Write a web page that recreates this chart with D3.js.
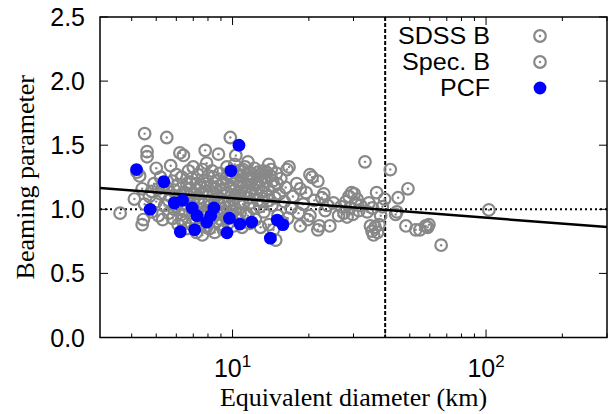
<!DOCTYPE html>
<html>
<head>
<meta charset="utf-8">
<script src="https://cdn.jsdelivr.net/npm/d3@7"></script>
<style>
html,body{margin:0;padding:0;background:#fff;}
svg{display:block;}
</style>
</head>
<body>
<svg id="chart" width="609" height="414"></svg>
<script>
// ---- data (Equivalent diameter km, Beaming parameter) ----
const sdssB = [
[3.6,0.97],[4.1,1.08],[4.2,1.29],[4.3,1.26],[4.4,1.16],[4.4,0.88],[4.45,0.92],[4.5,1.59],[4.6,1.45],[4.6,1.41],
[4.5,1.04],[4.7,1.10],[4.8,1.14],[4.8,0.98],[4.9,1.20],[5.0,1.32],[5.0,1.06],[5.1,0.95],[5.2,1.12],[5.3,0.92],[5.2,1.25],
[5.4,1.03],[5.5,1.56],[5.5,1.17],[5.6,0.97],[5.7,1.34],[5.7,1.10],[5.8,1.22],[5.8,0.93],[5.9,1.15],[6.0,1.02],
[6.0,1.27],[6.1,0.88],[6.1,1.19],[6.2,1.44],[6.2,1.08],[6.3,0.96],[6.3,1.25],[6.4,1.42],[6.4,1.13],[6.5,0.90],
[6.5,1.04],[6.6,1.20],[6.6,0.85],[6.7,1.30],[6.7,1.10],[6.8,0.97],[6.8,1.16],[6.9,1.24],[6.9,0.88],[7.0,1.05],
[7.0,1.33],[7.1,1.12],[7.1,0.93],[7.2,1.20],[7.2,0.82],[7.3,1.00],[7.3,1.27],[7.4,1.09],[7.4,0.87],[7.5,1.17],
[7.5,0.96],[7.6,1.31],[7.6,0.80],[7.7,1.04],[7.7,1.22],[7.8,1.46],[7.8,0.91],[7.9,1.14],[7.9,1.36],[8.0,0.99],
[8.0,1.26],[8.1,0.85],[8.1,1.07],[8.2,1.18],[8.3,0.93],[8.3,1.30],[8.4,1.12],[8.5,0.82],[8.5,1.02],[8.6,1.22],
[8.7,0.96],[8.8,1.43],[8.8,1.09],[8.9,0.88],[8.9,1.28],[9.0,1.15],[9.1,1.00],[9.2,0.84],[9.2,1.21],[9.3,1.06],
[9.4,0.94],[9.5,1.33],[9.5,1.13],[9.6,0.89],[9.7,1.02],[9.8,1.56],[9.8,1.18],[9.9,0.96],[10.0,1.25],[10.0,1.08],
[10.1,0.87],[10.2,1.15],[10.3,1.42],[10.3,1.00],[10.4,1.22],[10.5,0.93],[10.6,1.30],[10.7,1.11],[10.8,1.26],[10.9,0.86],
[11.0,1.04],[11.1,1.19],[11.2,1.33],[11.3,0.97],[11.5,1.37],[11.5,1.23],[11.6,1.09],[11.7,0.89],[11.8,1.28],[12.0,1.16],
[12.1,1.01],[12.2,1.32],[12.3,0.92],[12.5,1.21],[12.6,1.07],[12.8,1.27],[12.9,0.86],[13.0,1.14],[13.2,1.30],[13.3,0.98],
[13.5,1.22],[13.7,1.10],[13.9,1.35],[13.9,0.88],[14.1,1.26],[14.2,1.31],[14.3,1.03],[14.5,0.84],[14.6,1.18],[14.8,0.76],
[14.9,1.28],[15.1,0.95],[15.3,1.12],[15.5,1.24],[15.7,0.90],[16.0,1.06],[16.2,1.17],[16.4,1.31],[16.7,1.33],[16.5,0.93],
[17.0,1.01],[17.3,1.10],
[5.3,1.18],[6.8,1.21],[7.6,1.13],[8.6,1.16],[9.4,1.24],[10.9,1.17],[11.9,1.22],[12.7,1.17],[13.4,1.25],[7.0,0.99],
[8.2,1.03],[9.0,0.92],[10.6,1.05],[12.4,1.12],[5.9,1.00],[6.4,0.99],[7.9,0.86],[9.9,1.11],[11.3,1.12],[13.1,1.06],
[10.4,1.28],[10.8,1.21],[11.4,1.27],[11.0,1.31],[12.0,1.25],[12.3,1.19],[12.9,1.23],[13.6,1.29],[14.4,1.22],[15.0,1.20],
[11.2,1.14],[12.6,1.29],[13.8,1.16],[14.7,1.09],[10.2,1.35],[9.6,1.28],[9.1,1.19],[8.4,1.25],[7.8,1.20],[7.3,1.15],
[6.6,1.12],[6.1,1.09],[5.6,1.07],[5.1,1.16],[8.7,1.11],[9.7,1.06],[10.5,1.13],[11.8,1.05],[12.8,1.02],[13.9,1.07],
[6.9,1.02],[7.7,0.98],[8.9,1.04],[10.0,0.99],[11.5,0.95],[6.3,0.92],[7.5,0.89],[8.6,0.90],[9.3,0.98],[10.7,0.97]
];
const specB = [
[17.9,1.20],[18.2,0.97],[18.5,1.16],[18.5,0.87],[19.0,1.04],[19.5,1.13],[19.8,0.92],[20.2,1.27],[20.2,0.95],[20.6,1.25],
[21.0,1.07],[21.7,1.22],[21.7,0.84],[22.0,0.87],[22.5,1.09],[22.9,1.12],[23.2,0.99],[23.7,1.03],[24.2,0.87],[25.0,1.05],
[26.2,0.95],[26.8,1.02],[27.5,0.97],[28.0,1.06],[28.3,0.94],[28.8,1.10],[29.0,1.01],[29.5,1.13],[29.8,0.96],[30.2,1.12],
[30.5,1.05],[31.0,1.08],[31.5,0.99],[32.0,1.03],[33.3,1.37],[34.0,0.98],[34.5,1.05],[35.0,0.87],[35.5,0.83],[35.7,1.01],
[36.0,0.80],[36.5,0.86],[37.0,1.13],[37.3,0.82],[37.8,0.88],[38.4,0.95],[39.0,1.02],[39.8,1.08],
[41.9,1.31],[44.0,0.96],[44.5,0.98],[45.0,1.09],[48.3,0.87],[49.2,1.16],[52.8,0.84],[54.8,0.84],[57.8,0.87],[58.8,0.86],
[59.5,0.88],[66.5,0.72],[102.6,0.995]
];
const pcf = [
[4.18,1.31],[4.73,1.00],[5.36,1.215],[5.89,1.05],[6.35,1.07],[6.22,0.825],[6.93,1.01],[7.24,0.95],[7.09,0.84],[7.91,0.90],
[8.20,0.95],[8.44,1.01],[9.51,0.817],[9.72,0.93],[9.86,1.30],[10.6,1.50],[10.7,0.885],[11.9,0.90],[14.1,0.775],[15.0,0.916],[15.8,0.88]
];
const fitLine = [[3,1.166],[300,0.862]];
const refX = 40;
const refY = 1.0;
const yTicks = [0.0,0.5,1.0,1.5,2.0,2.5];
const yTickLabels = ["0.0","0.5","1.0","1.5","2.0","2.5"];
const xMajor = [10,100];
const xMajorLabels = [["10","1"],["10","2"]];
const xMinor = [4,5,6,7,8,9,20,30,40,50,60,70,80,90,200,300];
const legendNames = ["SDSS B","Spec. B","PCF"];
const xTitle = "Equivalent diameter (km)";
const yTitle = "Beaming parameter";

// ---- layout ----
const L = 100, R = 607, T = 17, B = 337.5;
const svg = d3.select("#chart");
const x = d3.scaleLog().domain([3,300]).range([L,R]);
const y = d3.scaleLinear().domain([0,2.5]).range([B,T]);
const gray = "#888888";

// reference lines
svg.append("line").attr("x1",x(refX)).attr("x2",x(refX)).attr("y1",T).attr("y2",B)
  .attr("stroke","#000").attr("stroke-width",2).attr("stroke-dasharray","4,2");
svg.append("line").attr("x1",L).attr("x2",R).attr("y1",y(refY)).attr("y2",y(refY))
  .attr("stroke","#000").attr("stroke-width",2).attr("stroke-dasharray","2,3");

// gray points
function ring(g, data){
  const s = g.selectAll(null).data(data).enter().append("g")
    .attr("transform",d=>`translate(${x(d[0])},${y(d[1])})`);
  s.append("circle").attr("r",5.8).attr("fill","none").attr("stroke",gray).attr("stroke-width",2.2);
  s.append("circle").attr("r",1.2).attr("fill",gray);
}
const gp = svg.append("g");
ring(gp, sdssB);
ring(gp, specB);

// fit line
svg.append("path").datum(fitLine)
  .attr("d", d3.line().x(d=>x(d[0])).y(d=>y(d[1])))
  .attr("stroke","#000").attr("stroke-width",2.5).attr("fill","none");

// PCF points
svg.append("g").selectAll("circle").data(pcf).enter().append("circle")
  .attr("cx",d=>x(d[0])).attr("cy",d=>y(d[1])).attr("r",6.4).attr("fill","#0000ff");

// frame
svg.append("rect").attr("x",L).attr("y",T).attr("width",R-L).attr("height",B-T)
  .attr("fill","none").attr("stroke","#000").attr("stroke-width",1.5);

// ticks
const tk = svg.append("g").attr("stroke","#000").attr("stroke-width",1);
yTicks.forEach(v=>{
  tk.append("line").attr("x1",L).attr("x2",L+8).attr("y1",y(v)).attr("y2",y(v));
  tk.append("line").attr("x1",R).attr("x2",R-8).attr("y1",y(v)).attr("y2",y(v));
});
xMajor.forEach(v=>{
  tk.append("line").attr("x1",x(v)).attr("x2",x(v)).attr("y1",B).attr("y2",B-8);
  tk.append("line").attr("x1",x(v)).attr("x2",x(v)).attr("y1",T).attr("y2",T+8);
});
xMinor.forEach(v=>{
  tk.append("line").attr("x1",x(v)).attr("x2",x(v)).attr("y1",B).attr("y2",B-4);
  tk.append("line").attr("x1",x(v)).attr("x2",x(v)).attr("y1",T).attr("y2",T+4);
});

const sans = "'Liberation Sans', Arial, Helvetica, sans-serif";
const serif = "'Liberation Serif', 'Times New Roman', serif";

// y tick labels
svg.append("g").selectAll("text").data(yTicks).enter().append("text")
  .attr("x",L-15).attr("y",d=>y(d)).attr("dy","0.36em")
  .attr("text-anchor","end").attr("font-family",sans).attr("font-size",25)
  .text((d,i)=>yTickLabels[i]);

// x tick labels
xMajor.forEach((v,i)=>{
  const t = svg.append("text").attr("x",x(v)).attr("y",377)
    .attr("text-anchor","middle").attr("font-family",sans).attr("font-size",25);
  t.append("tspan").text(xMajorLabels[i][0]);
  t.append("tspan").attr("dy",-10).attr("font-size",17).text(xMajorLabels[i][1]);
});

// axis titles
svg.append("text").attr("x",(L+R)/2).attr("y",406).attr("text-anchor","middle")
  .attr("font-family",serif).attr("font-size",26).text(xTitle);
svg.append("text").attr("transform",`translate(34,${(T+B)/2}) rotate(-90)`)
  .attr("text-anchor","middle").attr("font-family",serif).attr("font-size",26).text(yTitle);

// legend
const ly = [36,62,88];
const lw = [92,88,50];
legendNames.forEach((n,i)=>{
  svg.append("text").attr("x",490).attr("y",ly[i]).attr("dy","0.36em")
    .attr("text-anchor","end").attr("font-family",sans).attr("font-size",23)
    .attr("textLength",lw[i]).attr("lengthAdjust","spacingAndGlyphs").text(n);
  if(i<2){
    const g = svg.append("g").attr("transform",`translate(540,${ly[i]})`);
    g.append("circle").attr("r",5.8).attr("fill","none").attr("stroke",gray).attr("stroke-width",2.2);
    g.append("circle").attr("r",1.2).attr("fill",gray);
  } else {
    svg.append("circle").attr("cx",540).attr("cy",ly[i]).attr("r",6.4).attr("fill","#0000ff");
  }
});
</script>
</body>
</html>
